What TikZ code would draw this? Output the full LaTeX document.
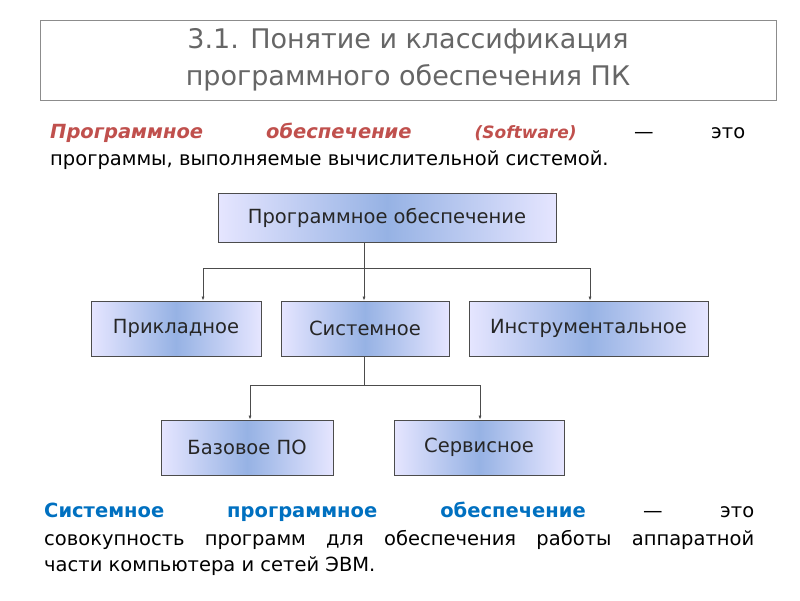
\documentclass[tikz,border=0pt]{standalone}
\usepackage{fontspec}
\setmainfont{DejaVu Sans}
\usetikzlibrary{arrows.meta}
\begin{document}
\begin{tikzpicture}[x=1pt,y=-1pt,
  bx/.style={draw=black!70,line width=0.8pt,left color=blue!10!white,right color=blue!10!white,middle color={rgb,255:red,150;green,178;blue,228},inner sep=0pt,font=\fontsize{19.5}{22}\selectfont,text=black!85},
  con/.style={draw=black!70,line width=0.7pt},
  arr/.style={con,-{Latex[length=4pt,width=3pt]}}]
\useasboundingbox (0,0) rectangle (800,600);
\definecolor{redt}{RGB}{192,80,77}
\definecolor{bluet}{RGB}{0,112,192}
\node[draw=black!45,line width=0.8pt,minimum width=736,minimum height=80,inner sep=0pt,align=center,text=black!60,font=\fontsize{27}{37}\selectfont] (title) at (408,60) {3.1. Понятие и классификация\\программного обеспечения ПК};
\node[anchor=west,inner sep=0pt,font=\fontsize{19.5}{22}\selectfont] (p1) at (50,133) {\makebox[695pt][s]{\color{redt}\bfseries\itshape Программное обеспечение {\fontsize{17}{18}\selectfont(Software)}\color{black}\mdseries\upshape{} — это}};
\node[anchor=west,inner sep=0pt,font=\fontsize{19.5}{22}\selectfont] (p2) at (50,160) {программы, выполняемые вычислительной системой.};
\node[bx,minimum width=338,minimum height=49] (top) at (387,217.5) {Программное обеспечение};
\node[bx,minimum width=170,minimum height=55] (a) at (176,328.5) {Прикладное};
\node[bx,minimum width=168,minimum height=55] (s) at (365,328.5) {Системное};
\node[bx,minimum width=239,minimum height=55] (i) at (588.5,328.5) {Инструментальное};
\node[bx,minimum width=172,minimum height=55] (b) at (247,447.5) {Базовое ПО};
\node[bx,minimum width=170,minimum height=55] (v) at (479,447.5) {Сервисное};
\coordinate (j1) at (364,268);
\coordinate (j2) at (364,385);
\draw[con] (top.south -| j1) -- (j1);
\draw[con] (j1 -| 203,0) -- (j1 -| 590,0);
\draw[arr] (j1 -| 203,0) -- (a.north -| 203,0);
\draw[arr] (j1) -- (s.north -| j1);
\draw[arr] (j1 -| 590,0) -- (i.north -| 590,0);
\draw[con] (s.south -| j2) -- (j2);
\draw[con] (j2 -| 250,0) -- (j2 -| 480,0);
\draw[arr] (j2 -| 250,0) -- (b.north -| 250,0);
\draw[arr] (j2 -| 480,0) -- (v.north -| 480,0);
\node[anchor=west,inner sep=0pt,font=\fontsize{19.5}{22}\selectfont] (q1) at (44,512) {\makebox[710pt][s]{\color{bluet}\bfseries Системное программное обеспечение\color{black}\mdseries{} — это}};
\node[anchor=west,inner sep=0pt,font=\fontsize{19.5}{22}\selectfont] (q2) at (44,540) {\makebox[710pt][s]{совокупность программ для обеспечения работы аппаратной}};
\node[anchor=west,inner sep=0pt,font=\fontsize{19.5}{22}\selectfont] (q3) at (44,566) {части компьютера и сетей ЭВМ.};
\end{tikzpicture}
\end{document}
